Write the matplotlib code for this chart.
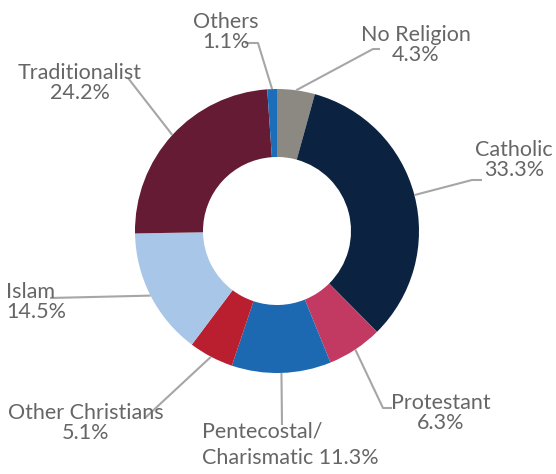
import numpy as np
import matplotlib
matplotlib.use("Agg")
import matplotlib.pyplot as plt

# data
labels = ["No Religion", "Catholic", "Protestant", "Pentecostal/\nCharismatic", "Other Christians",
          "Islam", "Traditionalist", "Others"]
shares = [4.3, 33.3, 6.3, 11.3, 5.1, 14.5, 24.2, 1.1]
colors = ["#8C8983", "#0B2341", "#C23A61", "#1C69B1", "#BA1F30", "#A8C6E8", "#641B33", "#1D6EB9"]

W, H = 556, 474
cx, cy, r_out, ring = 277, H - 231, 142, 68

# label layout in pixel coords (x, y from top), text alignment, elbow points from top
layout = [
    ((416, 45), "center", [(373, 49), (380, 49)]),
    ((514, 160), "center", [(472, 180), (482, 180)]),
    ((441, 413), "center", [(383, 408), (392, 408)]),
    ((202, 445), "left", [(282, 425)]),
    ((86, 423), "center", [(145, 418)]),
    ((6, 302), "left", [(50, 298)]),
    ((80, 83), "center", [(128, 78)]),
    ((226, 32), "center", [(258, 43), (245, 43)]),
]

plt.rcParams["font.family"] = ["Lato", "DejaVu Sans"]
fig = plt.figure(figsize=(W / 100, H / 100), dpi=100)
ax = fig.add_axes([0, 0, 1, 1])

wedges, _ = ax.pie(shares, colors=colors, startangle=90, counterclock=False,
                   center=(cx, cy), radius=r_out,
                   wedgeprops=dict(width=ring, edgecolor="none"), frame=True)
ax.set_xlim(0, W)
ax.set_ylim(0, H)
ax.axis("off")

for w, lab, val, (pos, ha, elbow) in zip(wedges, labels, shares, layout):
    ang = np.deg2rad((w.theta1 + w.theta2) / 2)
    xs = [cx + r_out * np.cos(ang)] + [p[0] for p in elbow]
    ys = [cy + r_out * np.sin(ang)] + [H - p[1] for p in elbow]
    ax.plot(xs, ys, color="#A6A6A6", lw=1.5, solid_capstyle="butt", zorder=1)
    if lab.startswith("Pentecostal"):
        txt = "Pentecostal/\nCharismatic %.1f%%" % val
        ls = 1.4
    else:
        txt = "%s\n%.1f%%" % (lab, val)
        ls = 1.0
    ax.text(pos[0], H - pos[1], txt, ha=ha, va="center", multialignment=ha,
            fontsize=15.5, fontweight="normal", color="#666666", linespacing=ls)

fig.savefig("out.png", dpi=100)
